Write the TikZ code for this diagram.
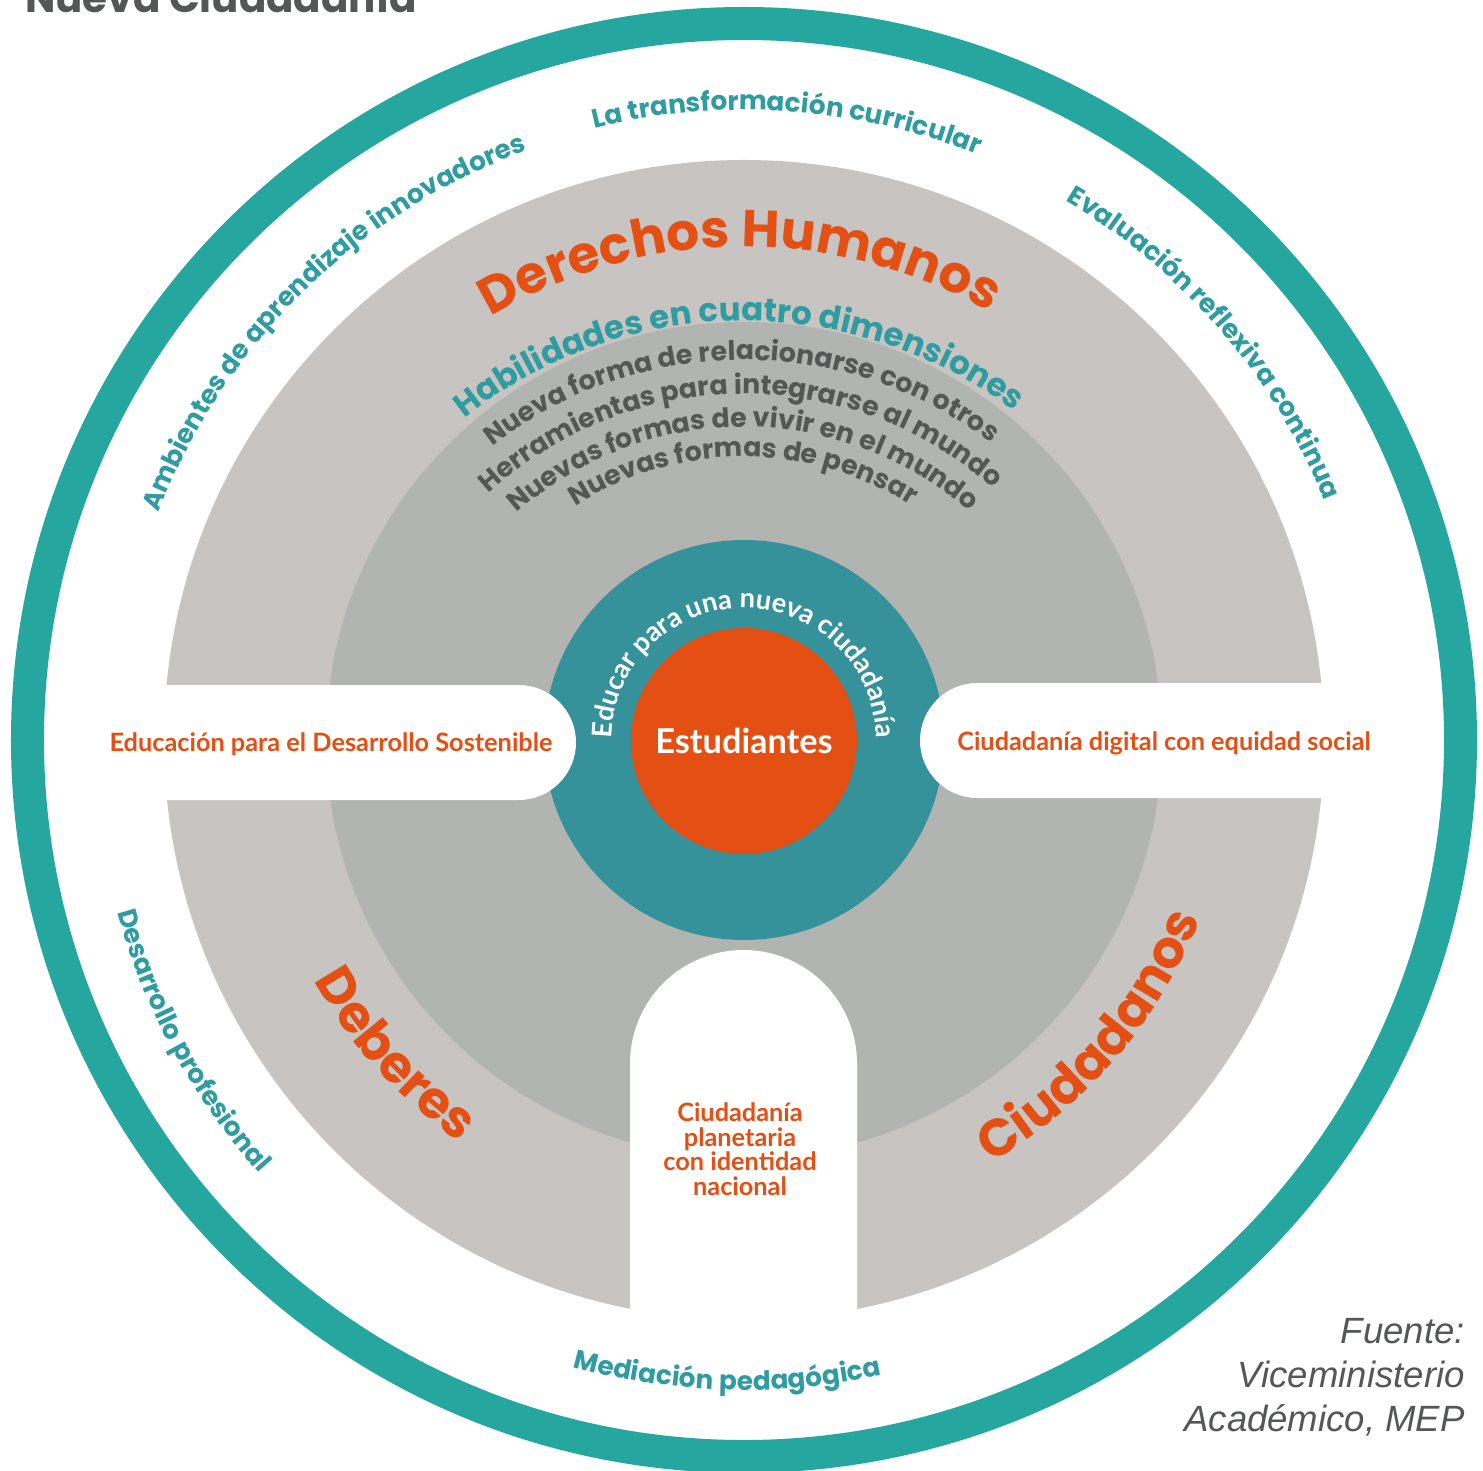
\documentclass[tikz,border=0pt]{standalone}
\usepackage{fontspec}
\usetikzlibrary{decorations.text}
\newfontfamily\popfont{Poppins}
\newfontfamily\latofont{Lato}
\newfontfamily\arialfont{Liberation Sans}
\definecolor{anillo}{RGB}{37,167,160}
\definecolor{grisclaro}{RGB}{200,196,193}
\definecolor{grisoscuro}{RGB}{178,180,177}
\definecolor{tealcentro}{RGB}{53,146,154}
\definecolor{naranja}{RGB}{228,79,20}
\definecolor{tealtexto}{RGB}{46,156,160}
\definecolor{gristexto}{RGB}{85,87,87}
\newcommand\anillofont{\popfont\bfseries\fontsize{15}{17}\selectfont\color{tealtexto}}
\newcommand\grandefont{\popfont\bfseries\fontsize{29.5}{31}\selectfont\color{naranja}}
\newcommand\habfont{\popfont\bfseries\fontsize{18.5}{20}\selectfont\color{tealtexto}}
\newcommand\dimfont{\popfont\bfseries\fontsize{15.3}{17}\selectfont\color{gristexto}}
\newcommand\educfont{\latofont\bfseries\fontsize{15.5}{17}\selectfont\color{white}}
\begin{document}
\begin{tikzpicture}[x=0.02cm, y=0.02cm,
    arctext/.style={decorate, decoration={text along path, text align=center, text={#1}}},
    bandtext/.style={font=\latofont\bfseries\fontsize{14.4}{14}\selectfont, text=naranja, align=center, inner sep=0}]
  \path[use as bounding box, fill=white] (-744,-730) rectangle (739,740);
  % anillo y discos
  \fill[anillo, even odd rule] (0,0) circle[radius=733] (0,0) circle[radius=700];
  \fill[grisclaro] (0,0) circle[radius=580];
  \fill[grisoscuro] (0,0) circle[radius=418];
  \fill[tealcentro] (0,0) circle[radius=200];
  % franjas blancas
  \fill[white] (-600,55) -- (-225.5,55) arc[start angle=90, end angle=-90, radius=57.5] -- (-600,-60) -- cycle;
  \fill[white] (600,57) -- (233.5,57) arc[start angle=90, end angle=270, radius=57.5] -- (600,-58) -- cycle;
  \fill[white] (-114,-640) -- (-114,-323.5) arc[start angle=180, end angle=0, radius=113.5] -- (113,-640) -- cycle;
  \node[circle, fill=naranja, minimum size=4.52cm, inner sep=0, text=white, font=\latofont\bfseries\fontsize{19.5}{21}\selectfont] (est) at (0,-1) {Estudiantes};
  % textos del anillo exterior
  \path[arctext={|\anillofont|La transformación curricular}] (146:630) arc[start angle=146, end angle=26, radius=630];
  \path[arctext={|\anillofont|Ambientes de aprendizaje innovadores}] (194.5:628) arc[start angle=194.5, end angle=74.5, radius=628];
  \path[arctext={|\anillofont|Evaluación reflexiva continua}] (100.8:628) arc[start angle=100.8, end angle=-19.2, radius=628];
  \path[arctext={|\anillofont|Desarrollo profesional}] (148.6:650) arc[start angle=148.6, end angle=268.6, radius=650];
  \path[arctext={|\anillofont|Mediación pedagógica}] (208.5:650) arc[start angle=208.5, end angle=328.5, radius=650];
  % textos grandes
  \path[arctext={|\grandefont|Derechos Humanos}] (160.5:493) arc[start angle=160.5, end angle=20.5, radius=493];
  \path[arctext={|\grandefont|Deberes}] (172:493) arc[start angle=172, end angle=272, radius=493];
  \path[arctext={|\grandefont|Ciudadanos}] (269.5:490) arc[start angle=269.5, end angle=369.5, radius=490];
  % habilidades
  \begin{scope}[shift={(0,-30)}]
    \path[arctext={|\habfont|Habilidades en cuatro dimensiones}] (170.7:449) arc[start angle=170.7, end angle=10.7, radius=449];
    \path[arctext={|\dimfont|Nueva forma de relacionarse con otros}] (170.4:410) arc[start angle=170.4, end angle=10.4, radius=410];
    \path[arctext={|\dimfont|Herramientas para integrarse al mundo}] (170.6:376) arc[start angle=170.6, end angle=10.6, radius=376];
    \path[arctext={|\dimfont|Nuevas formas de vivir en el mundo}] (170.2:343) arc[start angle=170.2, end angle=10.2, radius=343];
    \path[arctext={|\dimfont|Nuevas formas de pensar}] (170.2:313) arc[start angle=170.2, end angle=10.2, radius=313];
  \end{scope}
  \path[arctext={|\educfont|Educar para una nueva ciudadanía}] (200:132) arc[start angle=200, end angle=-20, radius=132];
  % textos de las franjas
  \node[bandtext] (eds) at (-413,-4) {Educación para el Desarrollo Sostenible};
  \node[bandtext] (cdig) at (420,-3) {Ciudadanía digital con equidad social};
  \node[bandtext] (cplan) at (-4,-409) {Ciudadanía\\planetaria\\con identidad\\nacional};
  % titulo y fuente
  \node[anchor=base west, inner sep=0, text=gristexto, font=\popfont\bfseries\fontsize{23}{25}\selectfont] (titulo) at (-719,727) {Nueva Ciudadanía};
  \node[anchor=north east, inner sep=0, align=right, text=gristexto, font=\arialfont\itshape\fontsize{20.8}{25}\selectfont] (fuente) at (721,-578) {Fuente:\\Viceministerio\\Académico, MEP};
\end{tikzpicture}
\end{document}
